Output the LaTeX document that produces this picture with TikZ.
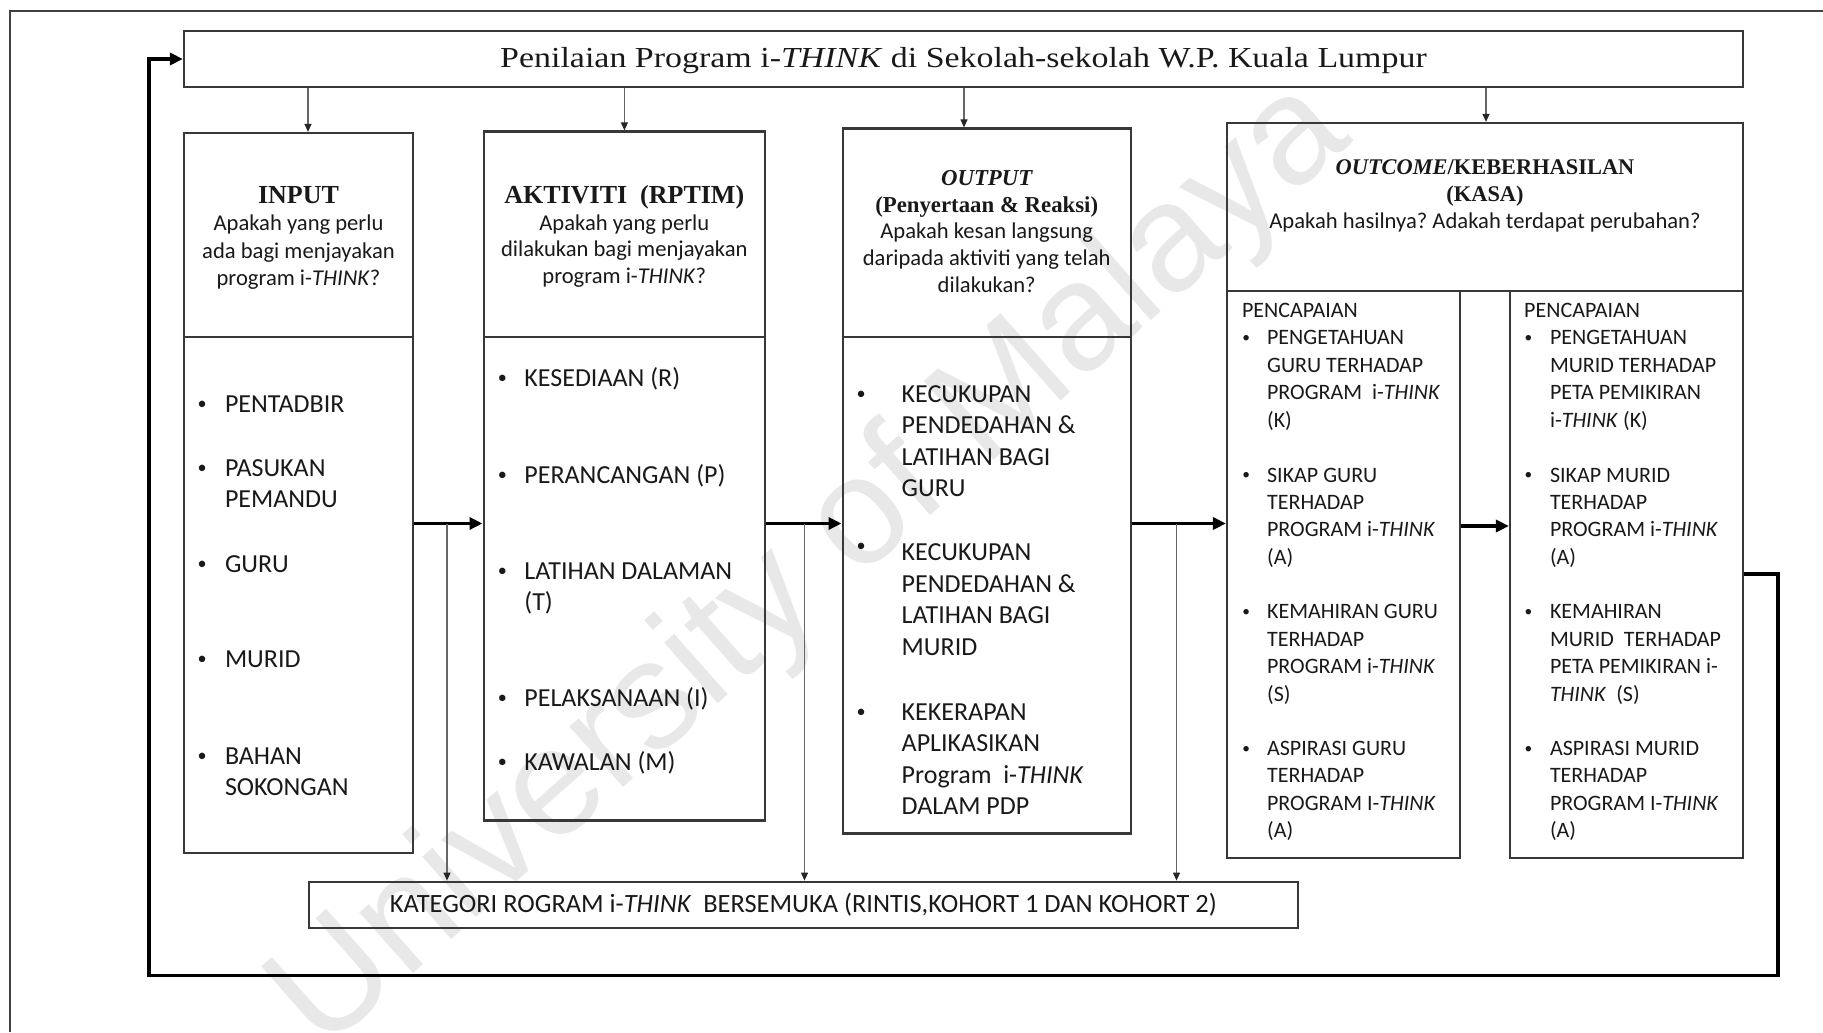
\documentclass[tikz,border=0pt]{standalone}
\usepackage{fontspec}
\usepackage{graphicx}
\setmainfont{Carlito}
\newfontfamily\tnr{Liberation Serif}
\newfontfamily\wmfont{Liberation Sans}
\usetikzlibrary{fit,arrows.meta}
\frenchspacing

% stacked lines: left / centred, baseline on the first line
\newcommand\stk[1]{\begin{tabular}[t]{@{}l@{}}#1\end{tabular}}
\newcommand\cstk[1]{\begin{tabular}[t]{@{}c@{}}#1\end{tabular}}
% small bullet hanging to the left of an item (optional extra raise)
\newcommand\bul[2][0pt]{\llap{\makebox[#2][l]{\hspace{0.08em}\raisebox{\dimexpr0.1em+#1\relax}{\scalebox{0.7}{\textbullet}}}}}
\newcommand\tk{\textit{THINK}}

\definecolor{txt}{gray}{0.1}
\definecolor{edge}{gray}{0.22}

\begin{document}
\begin{tikzpicture}[x=0.5pt,y=-0.5pt,
  box/.style={draw=edge,line width=1.1pt,inner sep=0pt},
  bigarrow/.style={line width=1.7pt,-{Triangle[length=6.5pt,width=6pt]}},
  thinarrow/.style={draw=black!60,line width=0.6pt,-{Triangle[length=4pt,width=3.5pt,color=black!85]}},
  frame/.style={draw=black!75,line width=1pt},
  hdr/.style={anchor=base,inner sep=0pt,text=txt},
  itemA/.style={anchor=base west,inner sep=0pt,text=txt,font=\fontsize{13}{15.6}\selectfont},
  itemB/.style={anchor=base west,inner sep=0pt,text=txt,font=\fontsize{13}{15.75}\selectfont},
  itemC/.style={anchor=base west,inner sep=0pt,text=txt,font=\fontsize{11}{13.7}\selectfont},
  wm/.style={inner sep=0pt,text=black!9,font=\wmfont\fontsize{76.5}{76.5}\selectfont}]

\useasboundingbox (0,0) rectangle (1823,1032);

% watermark behind everything
\node[wm,rotate=41.5] (wmark) at (812,568) {University of Malaya};

% page frame
\draw[frame] (10,1032) -- (10,11) -- (1823,11);

% title
\node[box,fit={(184,31) (1743,87)}] (title) {};
\node[text=txt,inner sep=0pt,yshift=-1pt,font=\tnr\fontsize{14.5}{16}\selectfont] (titleT) at (title.center)
  {\scalebox{1.17}[1]{Penilaian Program i-\textit{THINK} di Sekolah-sekolah W.P. Kuala Lumpur}};

% column boxes
\node[box,fit={(184,133) (413,337)}] (inpH) {};
\node[box,fit={(184,337) (413,853)}] (inpB) {};
\node[box,fit={(483.6,131.5) (765,337)}] (aktH) {};
\node[box,fit={(483.6,337) (765,820.5)}] (aktB) {};
\node[box,fit={(842.6,128.5) (1130.8,337)}] (outH) {};
\node[box,fit={(842.6,337) (1130.8,833.5)}] (outB) {};
\node[box,fit={(1227,123) (1743,291)}] (ocH) {};
\node[box,fit={(1227,291) (1460,858)}] (ocL) {};
\node[box,fit={(1510,291) (1743,858)}] (ocR) {};

% category box
\node[box,fit={(308.8,881.7) (1297.8,928)}] (kat) {};
\node[text=txt,inner sep=0pt,font=\fontsize{13.2}{15}\selectfont] (katT) at (kat.center)
  {KATEGORI ROGRAM i-\tk\ \ BERSEMUKA (RINTIS,KOHORT 1 DAN KOHORT 2)};

% headers
\node[hdr,font=\fontsize{11.3}{13.65}\selectfont] (inpT) at (298.5,203.6)
  {\cstk{{\tnr\bfseries\fontsize{13}{13.65}\selectfont INPUT}\\Apakah yang perlu\\ada bagi menjayakan\\program i-\tk?}};
\node[hdr,font=\fontsize{11.3}{13.3}\selectfont] (aktT) at (624.3,203.6)
  {\cstk{{\tnr\bfseries\fontsize{13}{13.3}\selectfont AKTIVITI\ \ (RPTIM)}\\Apakah yang perlu\\dilakukan bagi menjayakan\\program i-\tk?}};
\node[hdr,font=\fontsize{11.3}{13.3}\selectfont] (outT) at (986.7,185.7)
  {\cstk{{\tnr\bfseries\itshape\fontsize{11.4}{13.3}\selectfont OUTPUT}\\{\tnr\bfseries\fontsize{11.4}{13.3}\selectfont (Penyertaan \& Reaksi)}\\Apakah kesan langsung\\daripada aktiviti yang telah\\dilakukan?}};
\node[hdr,font=\fontsize{11.3}{13.6}\selectfont] (ocT) at (1485,174.1)
  {\cstk{{\tnr\bfseries\fontsize{11.2}{13.6}\selectfont\textit{OUTCOME}/KEBERHASILAN}\\{\tnr\bfseries\fontsize{11.2}{13.6}\selectfont (KASA)}\\Apakah hasilnya? Adakah terdapat perubahan?}};

% input items
\node[itemA] (i1) at (224.6,412.4) {\stk{\bul{14.75pt}PENTADBIR}};
\node[itemA] (i2) at (224.6,476)   {\stk{\bul{14.75pt}PASUKAN\\PEMANDU}};
\node[itemA] (i3) at (224.6,572.4) {\stk{\bul{14.75pt}GURU}};
\node[itemA] (i4) at (224.6,667.4) {\stk{\bul{14.75pt}MURID}};
\node[itemA] (i5) at (224.6,764.4) {\stk{\bul{14.75pt}BAHAN\\SOKONGAN}};

% activity items
\node[itemA] (a1) at (524,386.4) {\stk{\bul{14.25pt}KESEDIAAN (R)}};
\node[itemA] (a2) at (524,483)   {\stk{\bul{14.25pt}PERANCANGAN (P)}};
\node[itemA] (a3) at (524,579.4) {\stk{\bul{14.25pt}LATIHAN DALAMAN\\(T)}};
\node[itemA] (a4) at (524,706.4) {\stk{\bul{14.25pt}PELAKSANAAN (I)}};
\node[itemA] (a5) at (524,770)   {\stk{\bul{14.25pt}KAWALAN (M)}};

% output items
\node[itemB] (o1) at (901.3,402) {\stk{\bul{23.6pt}KECUKUPAN\\PENDEDAHAN \&\\LATIHAN BAGI\\GURU}};
\node[itemB] (o2) at (901.3,560.5) {\stk{\bul[3pt]{23.6pt}KECUKUPAN\\PENDEDAHAN \&\\LATIHAN BAGI\\MURID}};
\node[itemB] (o3) at (901.3,720)   {\stk{\bul{23.6pt}KEKERAPAN\\APLIKASIKAN\\Program\ \ i-\tk\\DALAM PDP}};

% outcome: teachers
\node[itemC] (p1) at (1241.7,317) {PENCAPAIAN};
\node[itemC] (l1) at (1266.7,344.8) {\stk{\bul{13.25pt}PENGETAHUAN\\GURU TERHADAP\\PROGRAM\ \ i-\tk\\(K)}};
\node[itemC] (l2) at (1266.7,482)   {\stk{\bul{13.25pt}SIKAP GURU\\TERHADAP\\PROGRAM i-\tk\\(A)}};
\node[itemC] (l3) at (1266.7,618.8) {\stk{\bul{13.25pt}KEMAHIRAN GURU\\TERHADAP\\PROGRAM i-\tk\\(S)}};
\node[itemC] (l4) at (1266.7,755.4) {\stk{\bul{13.25pt}ASPIRASI GURU\\TERHADAP\\PROGRAM I-\tk\\(A)}};

% outcome: pupils
\node[itemC] (p2) at (1523.8,317) {PENCAPAIAN};
\node[itemC] (r1) at (1549.6,344.8) {\stk{\bul{13.6pt}PENGETAHUAN\\MURID TERHADAP\\PETA PEMIKIRAN\\i-\tk\ (K)}};
\node[itemC] (r2) at (1549.6,482)   {\stk{\bul{13.6pt}SIKAP MURID\\TERHADAP\\PROGRAM i-\tk\\(A)}};
\node[itemC] (r3) at (1549.6,618.8) {\stk{\bul{13.6pt}KEMAHIRAN\\MURID\ \ TERHADAP\\PETA PEMIKIRAN i-\\\tk\ \ (S)}};
\node[itemC] (r4) at (1549.6,755.4) {\stk{\bul{13.6pt}ASPIRASI MURID\\TERHADAP\\PROGRAM I-\tk\\(A)}};

% drops from the title
\coordinate (ax1) at (308,0);
\coordinate (ax2) at (624.4,0);
\coordinate (ax3) at (964,0);
\coordinate (ax4) at (1486,0);
\draw[thinarrow] (title.south -| ax1) -- (inpH.north -| ax1);
\draw[thinarrow] (title.south -| ax2) -- (aktH.north -| ax2);
\draw[thinarrow] (title.south -| ax3) -- (outH.north -| ax3);
\draw[thinarrow] (title.south -| ax4) -- (ocH.north -| ax4);

% main flow
\coordinate (hy) at (0,523.5);
\coordinate (hy2) at (0,526);
\draw[bigarrow] (inpB.east |- hy) -- (aktB.west |- hy);
\draw[bigarrow] (aktB.east |- hy) -- (outB.west |- hy);
\draw[bigarrow] (outB.east |- hy) -- (ocL.west |- hy);
\draw[bigarrow] (ocL.east |- hy2) -- (ocR.west |- hy2);

% branches to the category box
\coordinate (d1) at (447,523.5);
\coordinate (d2) at (804.5,523.5);
\coordinate (d3) at (1176.5,523.5);
\draw[thinarrow] (d1) -- (kat.north -| d1);
\draw[thinarrow] (d2) -- (kat.north -| d2);
\draw[thinarrow] (d3) -- (kat.north -| d3);

% feedback loop back to the title
\coordinate (fb) at (0,574);
\coordinate (fbR) at (1778,975.5);
\coordinate (fbL) at (149,975.5);
\draw[bigarrow] (ocR.east |- fb) -| (fbR) -- (fbL) |- (title.west);
\end{tikzpicture}
\end{document}
